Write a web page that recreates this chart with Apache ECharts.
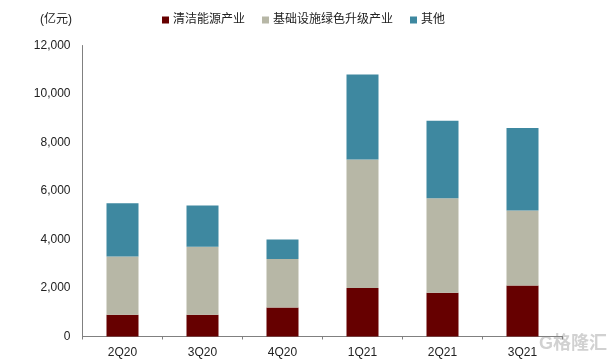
<!DOCTYPE html>
<html><head><meta charset="utf-8">
<style>html,body{margin:0;padding:0;background:#fff}#c{width:613px;height:362px}</style>
<script src="https://cdn.jsdelivr.net/npm/echarts@6/dist/echarts.min.js"></script>
</head><body><div id="c"></div>
<script>
const categories = ['2Q20','3Q20','4Q20','1Q21','2Q21','3Q21'];
const clean = [900,900,1200,2000,1800,2100];
const infra = [2400,2800,2000,5300,3900,3100];
const other = [2200,1700,800,3500,3200,3400];
const names = ['清洁能源产业','基础设施绿色升级产业','其他'];
const colors = ['#660000','#B7B7A6','#3E88A0'];
const font = '"Liberation Sans",Arial,"Noto Sans CJK SC",sans-serif';
const chart = echarts.init(document.getElementById('c'),null,{renderer:'canvas'});
const mk=(i,d)=>({name:names[i],type:'bar',stack:'a',data:d,barWidth:32,itemStyle:{color:colors[i]}});
chart.setOption({
  animation:false,
  backgroundColor:'#fff',
  legend:{top:9,left:157,itemWidth:7,itemHeight:7,itemGap:17,icon:'rect',
    textStyle:{fontFamily:font,fontSize:12,color:'#222',padding:[0,0,0,-1]},data:names},
  grid:{left:82.5,right:50.5,top:45.5,bottom:25.5},
  xAxis:{type:'category',data:categories,
    axisLine:{lineStyle:{color:'#808080',width:1}},
    axisTick:{show:true,length:3,alignWithLabel:false,lineStyle:{color:'#808080'}},
    axisLabel:{fontFamily:font,fontSize:12,color:'#222',margin:10}},
  yAxis:{type:'value',min:0,max:12000,interval:2000,
    axisLine:{show:true,lineStyle:{color:'#808080',width:1}},
    axisTick:{show:false},splitLine:{show:false},
    axisLabel:{fontFamily:font,fontSize:12,color:'#222',margin:12,
      formatter:v=>v.toLocaleString('en-US')}},
  series:[mk(0,clean),mk(1,infra),mk(2,other)],
  graphic:[
    {type:'text',left:40,top:14,style:{text:'(亿元)',font:'12px '+font,fill:'#222'}},
    {type:'text',left:539,top:335,silent:true,style:{text:'G格隆汇',font:'bold 18px '+font,fill:'rgba(190,190,190,0.7)'}}
  ]
});
</script></body></html>
